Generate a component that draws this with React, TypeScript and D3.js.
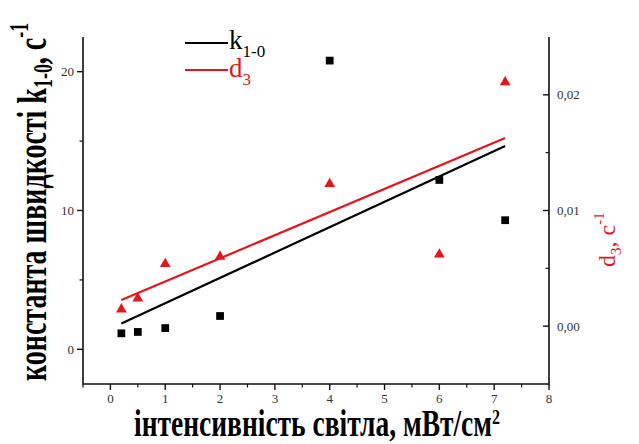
import React from 'react';
import * as d3 from 'd3';

const intensity = [0.2, 0.5, 1, 2, 4, 6, 7.2];
const k10 = [1.15, 1.25, 1.53, 2.4, 20.8, 12.2, 9.3];
const d3vals = [0.00146, 0.00241, 0.00538, 0.006, 0.0123, 0.0062, 0.0211];
const xTicks = [0, 1, 2, 3, 4, 5, 6, 7, 8];
const xMinor = [-0.5, 0.5, 1.5, 2.5, 3.5, 4.5, 5.5, 6.5, 7.5];
const leftTicks = [0, 10, 20];
const leftMinor = [5, 15];
const rightTicks = [0, 0.01, 0.02];
const rightMinor = [0.005, 0.015];

const W = 639, H = 444;
const L = 83, R = 549, T = 37, B = 384;
const RED = '#e3161c';
const ts = { fontFamily: "'Liberation Serif'" };

function fit(xs: number[], ys: number[]) {
  const mx = d3.mean(xs)!, my = d3.mean(ys)!;
  let sxy = 0, sxx = 0;
  xs.forEach((x, i) => { sxy += (x - mx) * (ys[i] - my); sxx += (x - mx) ** 2; });
  const b = sxy / sxx;
  const a = my - b * mx;
  return (x: number) => a + b * x;
}

export default function App() {
  const x = d3.scaleLinear().domain([-0.5, 8]).range([L, R]);
  const yL = d3.scaleLinear().domain([-2.5, 22.5]).range([B, T]);
  const yR = d3.scaleLinear().domain([-0.005, 0.025]).range([B, T]);

  const fk = fit(intensity, k10);
  const fd = fit(intensity, d3vals);
  const ends = [d3.min(intensity)!, d3.max(intensity)!];
  const lineK = d3.line<number>().x(v => x(v)).y(v => yL(fk(v)))(ends)!;
  const lineD = d3.line<number>().x(v => x(v)).y(v => yR(fd(v)))(ends)!;

  const sq = d3.symbol(d3.symbolSquare, 60)()!;
  const tri = d3.symbol(d3.symbolTriangle, 50)()!;

  return (
    <svg width={W} height={H} style={{ position: 'absolute', left: 0, top: 0, background: '#fff' }}>
      <rect width={W} height={H} fill="#fff" />
      <path d={`M${L},${T}V${B}H${R}V${T}`} fill="none" stroke="#111" strokeWidth={1.6} />
      {xTicks.map(t => (
        <g key={'x' + t}>
          <line x1={x(t)} x2={x(t)} y1={B} y2={B + 6} stroke="#111" strokeWidth={1.4} />
          <text x={x(t)} y={403} fontSize={13} textAnchor="middle" fill="#333" style={ts}>{t}</text>
        </g>
      ))}
      {xMinor.map(t => (
        <line key={'xm' + t} x1={x(t)} x2={x(t)} y1={B} y2={B + 3.5} stroke="#111" strokeWidth={1.2} />
      ))}
      {leftTicks.map(t => (
        <g key={'l' + t}>
          <line x1={L - 6} x2={L} y1={yL(t)} y2={yL(t)} stroke="#111" strokeWidth={1.4} />
          <text x={L - 9} y={yL(t) + 4.5} fontSize={13} textAnchor="end" fill="#333" style={ts}>{t}</text>
        </g>
      ))}
      {leftMinor.map(t => (
        <line key={'lm' + t} x1={L - 3.5} x2={L} y1={yL(t)} y2={yL(t)} stroke="#111" strokeWidth={1.2} />
      ))}
      {rightTicks.map(t => (
        <g key={'r' + t}>
          <line x1={R - 6} x2={R} y1={yR(t)} y2={yR(t)} stroke="#111" strokeWidth={1.4} />
          <text x={R + 8} y={yR(t) + 4.5} fontSize={13} textAnchor="start" fill="#333" style={ts}>{d3.format('.2f')(t).replace('.', ',')}</text>
        </g>
      ))}
      {rightMinor.map(t => (
        <line key={'rm' + t} x1={R - 3.5} x2={R} y1={yR(t)} y2={yR(t)} stroke="#111" strokeWidth={1.2} />
      ))}

      <path d={lineK} fill="none" stroke="#000" strokeWidth={2.2} />
      <path d={lineD} fill="none" stroke={RED} strokeWidth={2.2} />

      {intensity.map((v, i) => (
        <path key={'s' + i} d={sq} transform={`translate(${x(v)},${yL(k10[i])})`} fill="#000" />
      ))}
      {intensity.map((v, i) => (
        <path key={'t' + i} d={tri} transform={`translate(${x(v)},${yR(d3vals[i])})`} fill={RED} />
      ))}

      <line x1={185} x2={228} y1={43} y2={43} stroke="#000" strokeWidth={2.2} />
      <text x={229} y={49} fontSize={27} fill="#000" style={ts}>k<tspan fontSize={17} dy={8}>1-0</tspan></text>
      <line x1={185} x2={228} y1={70} y2={70} stroke={RED} strokeWidth={2.2} />
      <text x={229} y={77} fontSize={27} fill={RED} style={ts}>d<tspan fontSize={17} dy={8}>3</tspan></text>

      <g transform={`translate(134,436) scale(1,1.36)`}>
        <text x={0} y={0} fontSize={27.5} fontWeight="bold" fill="#000" style={ts}>інтенсивність світла, мВт/см<tspan fontSize={16} dy={-9}>2</tspan></text>
      </g>

      <g transform={`translate(46,381) rotate(-90) scale(1,1.47)`}>
        <text x={0} y={0} fontSize={28} fontWeight="bold" fill="#000" style={ts}>константа швидкості k<tspan fontSize={18} dy={4}>1-0</tspan><tspan dy={-4}>, c</tspan><tspan fontSize={18} dy={-12}>-1</tspan></text>
      </g>

      <g transform={`translate(615,267) rotate(-90)`}>
        <text x={0} y={0} fontSize={24} fill={RED} style={ts}>d<tspan fontSize={15} dy={6}>3</tspan><tspan dy={-6}>, c</tspan><tspan fontSize={15} dy={-11}>-1</tspan></text>
      </g>
    </svg>
  );
}
